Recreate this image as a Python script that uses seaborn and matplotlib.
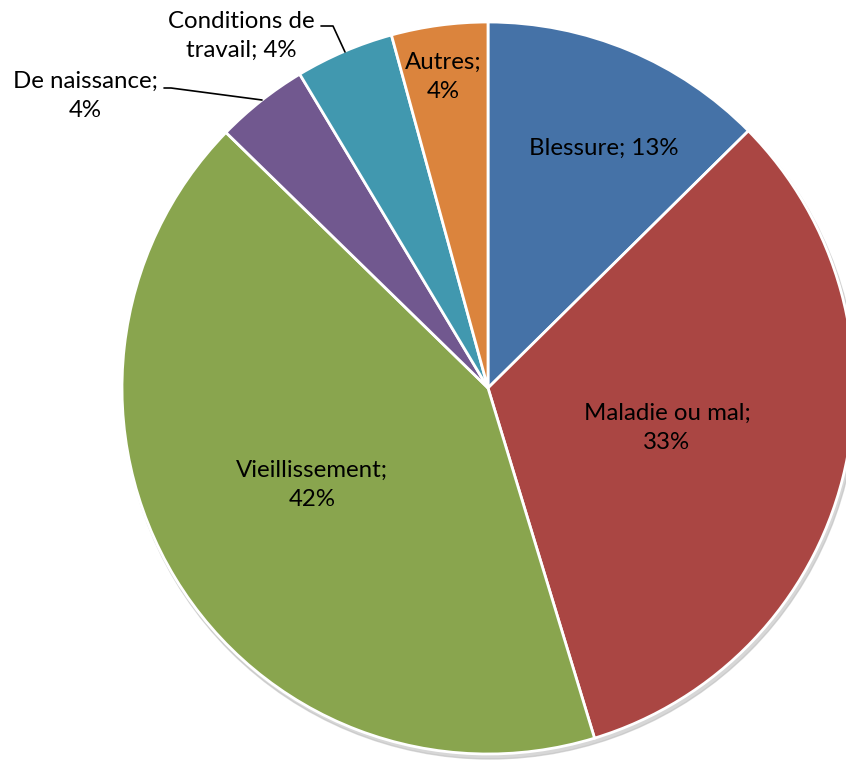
import matplotlib
matplotlib.use("Agg")
import matplotlib.pyplot as plt
import seaborn as sns

sns.set_theme(style="white")
plt.rcParams['font.family'] = ['Lato', 'DejaVu Sans']

# slices, clockwise from 12 o'clock
labels = ["Blessure", "Maladie ou mal", "Vieillissement", "De naissance",
          "Conditions de travail", "Autres"]
values = [12.6, 32.7, 42.0, 4.1, 4.35, 4.25]
colors = ["#4572A7", "#AA4643", "#89A54E", "#71588F", "#4198AF", "#DB843D"]

W, H = 846, 762
fig = plt.figure(figsize=(W / 100, H / 100), dpi=100)
ax = fig.add_axes([0, 0, 1, 1])

cx, cy, R = 488, H - 388, 366

# faint shadow under the pie
shadow = plt.Circle((cx + 2, cy - 4), R + 1, color="#bdbdbd", alpha=0.6, zorder=0)
ax.add_patch(shadow)

wedges, _ = ax.pie(values, colors=colors, startangle=90, counterclock=False,
                   center=(cx, cy), radius=R,
                   wedgeprops=dict(edgecolor="white", linewidth=2))
for w in wedges:
    w.set_zorder(1)

ax.set_xlim(0, W)
ax.set_ylim(0, H)
ax.set_aspect("equal")
ax.axis("off")

pct = [f"{round(v)}%" for v in values]
fs = 17.3
txt = dict(fontsize=fs, color="black", ha="center", va="center", linespacing=1.5)

ax.text(604, H - 148, f"{labels[0]}; {pct[0]}", **txt)
ax.text(667, H - 428, f"{labels[1]};\n{pct[1]}", **txt)
ax.text(312, H - 485, f"{labels[2]};\n{pct[2]}", **txt)
ax.text(85, H - 96, f"{labels[3]};\n{pct[3]}", **txt)
ax.text(241, H - 36, "Conditions de\ntravail; " + pct[4], **txt)
ax.text(443, H - 77, f"{labels[5]};\n{pct[5]}", **txt)

# leader lines
ax.plot([164, 171, 262], [H - 88, H - 88, H - 100], color="black", lw=1.2, zorder=3)
ax.plot([321, 333, 345], [H - 26, H - 26, H - 52], color="black", lw=1.2, zorder=3)

fig.savefig("out.png", dpi=100)
